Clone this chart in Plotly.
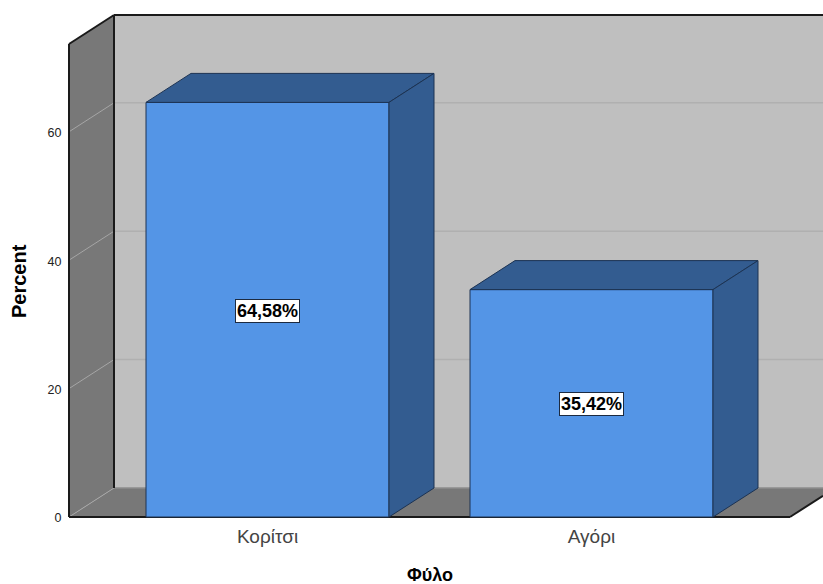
import plotly.graph_objects as go

categories = ["Κορίτσι", "Αγόρι"]
percent = [64.58, 35.42]
value_labels = ["64,58%", "35,42%"]
y_ticks = [0, 20, 40, 60]

FRONT = "#5495E6"
SIDE = "#335C90"
BACK = "#BFBFBF"
WALL = "#787878"
INK = "#1A1A1A"
BAR_EDGE = "#1C3353"
FONT = "Liberation Sans"

W, H = 823, 584
PAD = 2                       # room so the frame lines are not clipped by the plot area
WALL_L, WALL_T, FLOOR_Y = 69, 15, 517
L, R, T, B = WALL_L - PAD, 0, WALL_T - PAD, H - FLOOR_Y - PAD
px_y = 6.42
px_x = 324.0
first_center = 267.5
x_min = -(first_center - WALL_L) / px_x
x_max = (W - first_center) / px_x
y_max = (FLOOR_Y - WALL_T) / px_y
dx = 45 / px_x
dy = 29 / px_y
bar_w = 0.75
wall_top = y_max - dy
floor_end = x_min + (790 - WALL_L) / px_x

xs = list(range(len(categories)))


def page_x(px):
    return (px - L) / (W - L - R)


def page_y(py):
    return (H - B - py) / (H - T - B)


def poly(pts, fill, line=None, width=1):
    path = "M " + " L ".join(f"{a},{b}" for a, b in pts) + " Z"
    return dict(type="path", path=path, xref="x", yref="y", layer="below",
                fillcolor=fill, line=dict(color=line or fill, width=width if line else 0))


def seg(x0, y0, x1, y1, color=INK, width=2, dash="solid"):
    return dict(type="line", x0=x0, y0=y0, x1=x1, y1=y1, xref="x", yref="y",
                layer="below", line=dict(color=color, width=width, dash=dash))


shapes = [
    poly([(x_min + dx, dy), (x_max, dy), (x_max, y_max), (x_min + dx, y_max)], BACK),
    poly([(x_min, 0), (x_min + dx, dy), (x_min + dx, y_max), (x_min, wall_top)], WALL),
    poly([(x_min, 0), (x_min + dx, dy), (x_max, dy),
          (x_max, (x_max - floor_end) * dy / dx), (floor_end, 0)], WALL),
]
for t in y_ticks:
    shapes.append(seg(x_min, t, x_min + dx, t + dy, "#A6A6A6", 1))
    shapes.append(seg(x_min + dx, t + dy, x_max, t + dy, "#B0B0B0" if t else "#8C8C8C", 1.5))
shapes += [
    seg(x_min + dx, y_max, x_max, y_max),
    seg(x_min, wall_top, x_min + dx, y_max),
    seg(x_min, 0, x_min, wall_top),
    seg(x_min + dx, dy, x_min + dx, y_max),
    seg(x_min, 0, floor_end, 0),
    seg(floor_end, 0, x_max, (x_max - floor_end) * dy / dx),
]

fig = go.Figure()
fig.add_trace(go.Bar(x=xs, y=percent, width=bar_w, marker=dict(color=FRONT, line=dict(color=BAR_EDGE, width=1)),
                     showlegend=False, hoverinfo="skip"))

for xc, v in zip(xs, percent):
    x0, x1 = xc - bar_w / 2, xc + bar_w / 2
    top_x = [x0, x0 + dx, x1 + dx, x1, x0]
    top_y = [v, v + dy, v + dy, v, v]
    side_x = [x1, x1 + dx, x1 + dx, x1, x1]
    side_y = [0, dy, v + dy, v, 0]
    for px, py in ((top_x, top_y), (side_x, side_y)):
        fig.add_trace(go.Scatter(x=px, y=py, mode="lines", fill="toself", fillcolor=SIDE,
                                 line=dict(color=BAR_EDGE, width=1), showlegend=False, hoverinfo="skip"))

annotations = [
    dict(x=xc, y=v / 2, xref="x", yref="y", yshift=-1, text=f"<b>{lab}</b>", showarrow=False,
         font=dict(family=FONT, size=18, color="#000000"), bgcolor="#FFFFFF",
         bordercolor="#1C2A40", borderwidth=1, borderpad=1)
    for xc, v, lab in zip(xs, percent, value_labels)
]
annotations.append(dict(x=page_x(429.5), y=page_y(584), xref="paper", yref="paper",
                        xanchor="center", yanchor="bottom", yshift=-3,
                        text="<b>Φύλο</b>", showarrow=False, font=dict(family=FONT, size=18, color="#000000")))
annotations.append(dict(x=page_x(19), y=page_y(281), xref="paper", yref="paper",
                        xanchor="center", yanchor="middle",
                        text="<b>Percent</b>", textangle=-90, showarrow=False,
                        font=dict(family=FONT, size=20, color="#000000")))

fig.update_layout(
    width=W, height=H, margin=dict(l=L, r=R, t=T, b=B),
    paper_bgcolor="#FFFFFF", plot_bgcolor="#FFFFFF",
    showlegend=False, shapes=shapes, annotations=annotations,
    xaxis=dict(range=[x_min - PAD / px_x, x_max], tickmode="array", tickvals=xs, ticktext=categories, showgrid=False,
               zeroline=False, showline=False, ticks="outside", ticklen=0, tickcolor="rgba(0,0,0,0)",
               tickfont=dict(family=FONT, size=19, color="#444444")),
    yaxis=dict(range=[-PAD / px_y, y_max + PAD / px_y], tickmode="array", tickvals=y_ticks, showgrid=False,
               zeroline=False, showline=False, ticks="outside", ticklen=2, ticklabelshift=1,
               tickcolor="rgba(0,0,0,0)", tickfont=dict(family=FONT, size=12.5, color="#222222")),
)

fig.write_html("out.html", config=dict(displayModeBar=False),
               post_script="document.body.style.margin='0';document.documentElement.style.overflow='hidden';")
